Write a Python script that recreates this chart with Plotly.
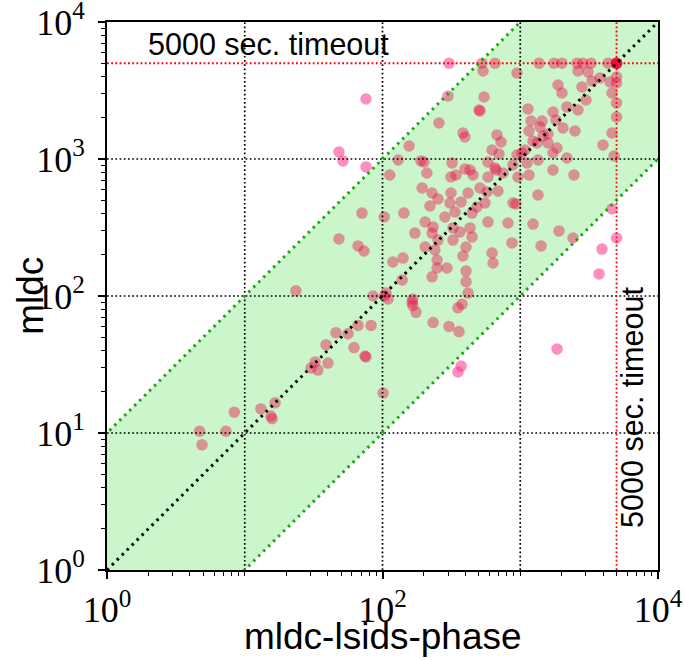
import numpy as np
import plotly.graph_objects as go

# runtime (seconds) of mldc-lsids-phase (x) vs mldc (y)
x_lsids = [
    4.7, 4.9, 7.3, 8.4, 13.1, 15.5, 15.8, 16.6, 101, 30.3,
    34.0, 32.4, 40.2, 38.9, 45.9, 56.2, 62.1, 74.6, 75.9, 66.4,
    82.6, 23.5, 85.3, 103, 110, 106, 119, 71, 103, 48.3,
    66.4, 73.4, 48.3, 51.7, 75.9, 75.9, 113, 130, 304, 527,
    656, 537, 947, 299, 546, 502, 510, 257, 384, 397,
    678, 725, 156, 624, 701, 190, 200, 320, 397, 210,
    314, 342, 454, 583, 656, 667, 750, 885, 947, 1368,
    1758, 2009, 2582, 2855, 3266, 4335, 5000, 5000, 5000, 5000, 5000, 5000,
    2625, 3105, 3320, 3793, 4484, 5000, 5000, 1880, 2009, 2806,
    4637, 3000, 2183, 1728, 2625, 5000, 5000, 1138, 1197, 1439,
    1818, 2043, 2497, 1158, 1391, 1463, 1590, 1238, 1324, 1590,
    1849, 4637, 3987, 4794, 1082, 1120, 1346, 1728, 2183, 1728,
    2455, 1158, 1030, 432, 583, 194, 229, 314, 418, 372,
    510, 574, 689, 555, 885, 931, 221, 253, 309, 284,
    447, 485, 143, 204, 233, 325, 365, 432, 583, 815,
    172, 229, 253, 325, 447, 404, 871, 204, 240, 141,
    249, 384, 624, 634, 294, 249, 229, 404, 404, 139,
    166, 336,
    963, 1346, 1238, 1911, 2415, 1415,
    4637, 5000, 3920, 3733,
    164, 166, 175, 378, 353, 418, 233, 304, 359,
    1849, 372, 353,
]
y_mldc = [
    10.3, 8.2, 10.3, 14.2, 15.0, 13.3, 12.7, 16.6, 19.6, 29.8,
    28.8, 33.0, 32.4, 44, 54, 53, 42, 36.5, 35.9, 61,
    61, 109, 100, 100, 95, 105, 177, 403, 377, 261,
    232, 213, 1125, 967, 875, 2742, 764, 984, 5000, 5000,
    5000, 4387, 4246, 2884, 2837, 2280, 2241, 1832, 1548, 1448,
    1497, 1331, 1244, 1163, 1087, 967, 951, 935, 846, 791,
    739, 764, 764, 951, 860, 831, 791, 904, 1069, 5000,
    5000, 5000, 5000, 5000, 5000, 5000, 5000, 5000, 5000, 5000, 5000, 5000,
    4387, 4315, 3707, 3903, 3648, 3969, 3589, 3468, 3034, 3356,
    3034, 2698, 2399, 2205, 2280, 2564, 2026, 2317, 1894, 1894,
    1926, 1684, 1600, 1600, 1713, 1472, 1522, 1353, 1309, 1309,
    1203, 1548, 1265, 1052, 1163, 935, 984, 1106, 1017, 831,
    764, 764, 1106, 831, 739, 614, 565, 565, 565, 486,
    614, 574, 584, 477, 477, 469, 454, 511, 477, 377,
    403, 446, 403, 347, 319, 314, 293, 314, 347, 341,
    288, 288, 256, 256, 270, 228, 244, 228, 217, 189,
    183, 196, 206, 174, 160, 160, 138, 152, 127, 131,
    95, 410,
    739, 546, 335, 298, 265, 232,
    432, 265, 220, 145,
    90, 85, 76, 87, 82, 105, 64, 60, 55,
    41, 30.8, 27.9,
]

timeout = 5000
band_ratio = 10
axis_min, axis_max = 1, 10000
grid_values = [10, 100, 1000]
y_major_ticks = [1, 10, 100, 1000, 10000]
y_tick_text = ["10<sup>0</sup>", "10<sup>1</sup>", "10<sup>2</sup>", "10<sup>3</sup>", "10<sup>4</sup>"]
x_major_ticks = [1, 100, 10000]
x_tick_text = ["10<sup>0</sup>", "10<sup>2</sup>", "10<sup>4</sup>"]
y_minor_ticks = [m * d for d in [1, 10, 100, 1000] for m in range(2, 10)]
x_minor_ticks = [m * d for d in [1, 10, 100, 1000] for m in range(1, 10) if m * d not in x_major_ticks]

x = np.array(x_lsids, dtype=float)
y = np.array(y_mldc, dtype=float)
inside = (y <= x * band_ratio) & (y >= x / band_ratio)

fig = go.Figure()

# green band between y = x/10 and y = 10x
bx = np.array([axis_min / 100, axis_max * 10])
fig.add_trace(go.Scatter(
    x=np.concatenate([bx, bx[::-1]]),
    y=np.concatenate([bx * band_ratio, (bx / band_ratio)[::-1]]),
    fill="toself", fillcolor="rgb(203,245,203)", mode="none", hoverinfo="skip"))

# points
fig.add_trace(go.Scatter(x=x[inside], y=y[inside], mode="markers",
                         marker=dict(size=11.5, color="rgba(236,10,72,0.42)", line=dict(width=0))))
fig.add_trace(go.Scatter(x=x[~inside], y=y[~inside], mode="markers",
                         marker=dict(size=11.5, color="rgba(255,50,140,0.55)", line=dict(width=0))))

# dotted grid
gx, gy = [], []
for v in grid_values:
    gx += [v, v, None, axis_min, axis_max, None]
    gy += [axis_min, axis_max, None, v, v, None]
fig.add_trace(go.Scatter(x=gx, y=gy, mode="lines",
                         line=dict(color="black", width=1.7, dash="1.7px,2.5px"), hoverinfo="skip"))

# timeout lines
fig.add_trace(go.Scatter(x=[timeout, timeout, None, axis_min, axis_max],
                         y=[axis_min, axis_max, None, timeout, timeout], mode="lines",
                         line=dict(color="red", width=1.8, dash="1.8px,2.4px"), hoverinfo="skip"))

# band boundaries
lx = np.array([axis_min / 100, axis_max * 10])
fig.add_trace(go.Scatter(x=list(lx) + [None] + list(lx), y=list(lx * band_ratio) + [None] + list(lx / band_ratio),
                         mode="lines", line=dict(color="rgb(30,165,20)", width=3, dash="2.5px,4.5px"),
                         hoverinfo="skip"))
# diagonal
fig.add_trace(go.Scatter(x=[axis_min, axis_max], y=[axis_min, axis_max], mode="lines",
                         line=dict(color="black", width=3, dash="2.5px,4.5px"), hoverinfo="skip"))

tickfont = dict(family="Liberation Serif", size=36, color="black")


def axis_style(major, text, minor):
    return dict(type="log", range=[0, 4], showgrid=False, zeroline=False, automargin=False,
                showline=True, linecolor="black", linewidth=2, mirror=True,
                ticks="outside", ticklen=7, tickwidth=1.5, tickcolor="black",
                tickmode="array", tickvals=major, ticktext=text, tickfont=tickfont,
                ticklabeloverflow="allow",
                minor=dict(tickmode="array", tickvals=minor, ticks="outside",
                           ticklen=4, tickwidth=1.2, tickcolor="black", showgrid=False))


fig.update_xaxes(**axis_style(x_major_ticks, x_tick_text, x_minor_ticks))
fig.update_yaxes(**axis_style(y_major_ticks, y_tick_text, y_minor_ticks), ticklabelstandoff=6)

sans = "Liberation Sans"
ann = dict(xref="paper", yref="paper", showarrow=False, xanchor="center", yanchor="middle")
fig.add_annotation(text="5000 sec. timeout", x=0.294, y=0.96,
                   font=dict(family=sans, size=30.5, color="black"), **ann)
fig.add_annotation(text="5000 sec. timeout", x=0.953, y=0.296, textangle=-90,
                   font=dict(family=sans, size=30.5, color="black"), **ann)
fig.add_annotation(text="mldc-lsids-phase", x=0.5, y=-0.122,
                   font=dict(family=sans, size=37, color="black"), **ann)
fig.add_annotation(text="mldc", x=-0.14, y=0.5, textangle=-90,
                   font=dict(family=sans, size=37, color="black"), **ann)

fig.update_layout(width=685, height=660, autosize=False, showlegend=False,
                  margin=dict(l=107, r=27, t=22, b=90),
                  paper_bgcolor="white", plot_bgcolor="white")

# remove the browser's default 8px page margin so the figure fills the window exactly
fig.write_html("out.html", config={"displayModeBar": False},
               post_script="document.body.style.margin='0px';")
